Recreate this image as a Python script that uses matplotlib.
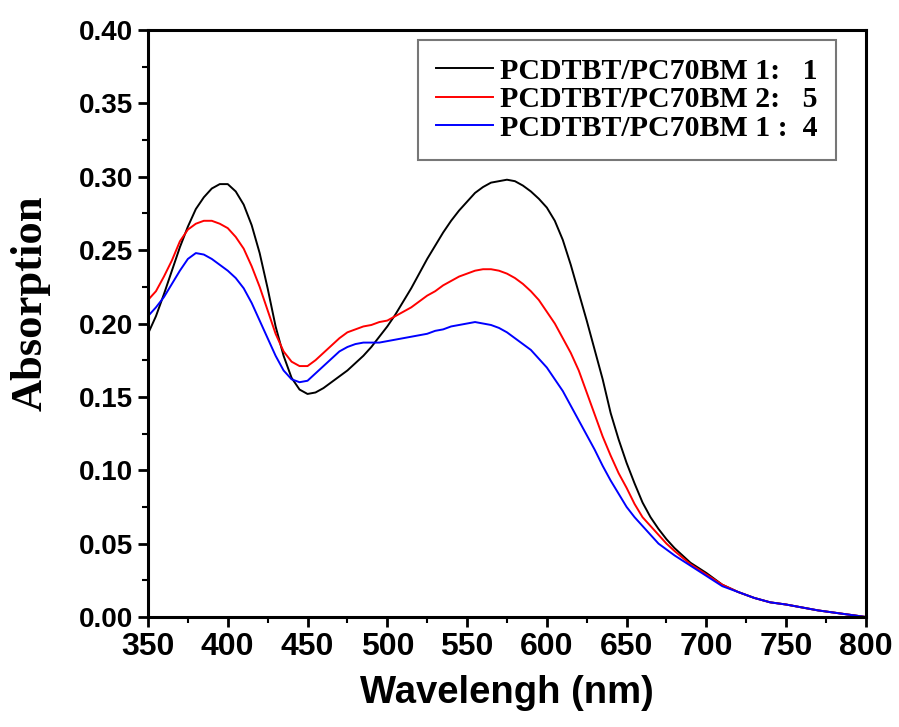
import matplotlib
matplotlib.use("Agg")
import matplotlib.pyplot as plt
from matplotlib.ticker import MultipleLocator, FormatStrFormatter

wavelength = [350, 355, 360, 365, 370, 375, 380, 385, 390, 395,
              400, 405, 410, 415, 420, 425, 430, 435, 440, 445,
              450, 455, 460, 465, 470, 475, 480, 485, 490, 495,
              500, 505, 510, 515, 520, 525, 530, 535, 540, 545,
              550, 555, 560, 565, 570, 575, 580, 585, 590, 595,
              600, 605, 610, 615, 620, 625, 630, 635, 640, 645,
              650, 655, 660, 665, 670, 675, 680, 690, 700, 710,
              720, 730, 740, 750, 760, 770, 780, 790, 800]

abs_1_1 = [0.193, 0.205, 0.220, 0.236, 0.252, 0.266, 0.278, 0.286, 0.292, 0.295,
           0.295, 0.290, 0.281, 0.267, 0.248, 0.224, 0.198, 0.178, 0.163, 0.155,
           0.152, 0.153, 0.156, 0.160, 0.164, 0.168, 0.173, 0.178, 0.184, 0.191,
           0.198, 0.206, 0.215, 0.224, 0.234, 0.244, 0.253, 0.262, 0.270, 0.277,
           0.283, 0.289, 0.293, 0.296, 0.297, 0.298, 0.297, 0.294, 0.290, 0.285,
           0.279, 0.270, 0.257, 0.240, 0.221, 0.202, 0.182, 0.162, 0.139, 0.121,
           0.105, 0.091, 0.078, 0.068, 0.060, 0.053, 0.047, 0.037, 0.030, 0.022,
           0.017, 0.013, 0.010, 0.0085, 0.0065, 0.0045, 0.003, 0.0015, 0.000]

abs_2_5 = [0.216, 0.222, 0.232, 0.243, 0.256, 0.264, 0.268, 0.270, 0.270, 0.268,
           0.265, 0.259, 0.251, 0.239, 0.225, 0.209, 0.193, 0.181, 0.174, 0.171,
           0.171, 0.175, 0.180, 0.185, 0.190, 0.194, 0.196, 0.198, 0.199, 0.201,
           0.202, 0.205, 0.208, 0.211, 0.215, 0.219, 0.222, 0.226, 0.229, 0.232,
           0.234, 0.236, 0.237, 0.237, 0.236, 0.234, 0.231, 0.227, 0.222, 0.216,
           0.208, 0.200, 0.190, 0.180, 0.168, 0.153, 0.138, 0.123, 0.110, 0.098,
           0.088, 0.077, 0.068, 0.062, 0.056, 0.050, 0.045, 0.036, 0.029, 0.022,
           0.017, 0.013, 0.010, 0.0085, 0.0065, 0.0045, 0.003, 0.0015, 0.000]

abs_1_4 = [0.205, 0.211, 0.218, 0.227, 0.236, 0.244, 0.248, 0.247, 0.244, 0.240,
           0.236, 0.231, 0.224, 0.214, 0.202, 0.190, 0.178, 0.168, 0.162, 0.160,
           0.161, 0.166, 0.171, 0.176, 0.181, 0.184, 0.186, 0.187, 0.187, 0.187,
           0.188, 0.189, 0.190, 0.191, 0.192, 0.193, 0.195, 0.196, 0.198, 0.199,
           0.200, 0.201, 0.200, 0.199, 0.197, 0.194, 0.190, 0.186, 0.182, 0.176,
           0.170, 0.162, 0.154, 0.144, 0.134, 0.124, 0.114, 0.103, 0.093, 0.084,
           0.075, 0.068, 0.062, 0.056, 0.050, 0.046, 0.042, 0.035, 0.028, 0.021,
           0.017, 0.013, 0.010, 0.0085, 0.0065, 0.0045, 0.003, 0.0015, 0.000]

labels = ["PCDTBT/PC70BM 1:   1", "PCDTBT/PC70BM 2:   5", "PCDTBT/PC70BM 1 :  4"]
colors = ["black", "#ff0000", "#0000ff"]

fig = plt.figure(figsize=(8.99, 7.27), dpi=100)
ax = fig.add_axes([0.1646, 0.1513, 0.7986, 0.8074])

for series, label, color in zip([abs_1_1, abs_2_5, abs_1_4], labels, colors):
    ax.plot(wavelength, series, color=color, linewidth=1.4, label=label)

ax.set_xlim(350, 800)
ax.set_ylim(0, 0.40)
ax.xaxis.set_major_locator(MultipleLocator(50))
ax.xaxis.set_minor_locator(MultipleLocator(25))
ax.yaxis.set_major_locator(MultipleLocator(0.05))
ax.yaxis.set_minor_locator(MultipleLocator(0.025))
ax.yaxis.set_major_formatter(FormatStrFormatter("%.2f"))

ax.tick_params(which="major", direction="out", length=7, width=2)
ax.tick_params(which="minor", direction="out", length=4, width=1.5)
ax.tick_params(top=False, right=False)
sans = ["Liberation Sans", "DejaVu Sans"]
for lab in ax.get_xticklabels():
    lab.set_family(sans)
    lab.set_weight("bold")
    lab.set_size(23)
for lab in ax.get_yticklabels():
    lab.set_family(sans)
    lab.set_weight("bold")
    lab.set_size(20)

for spine in ax.spines.values():
    spine.set_linewidth(2.2)

ax.set_xlabel("Wavelengh (nm)", family=sans, weight="bold", size=27.5, labelpad=10)
ax.set_ylabel("Absorption", family=["Liberation Serif", "DejaVu Serif"],
              weight="bold", size=32)
ax.yaxis.set_label_coords(-0.136, 0.535)

leg = ax.legend(loc="upper right", bbox_to_anchor=(0.958, 0.983), borderaxespad=0,
                frameon=True, fancybox=False, edgecolor="#555555",
                handlelength=1.9, handletextpad=0.25, borderpad=0.6,
                labelspacing=0.05,
                prop=dict(family=["Liberation Serif", "DejaVu Serif"],
                          weight="bold", size=21.5))
leg.get_frame().set_linewidth(1.5)

fig.savefig("out.png", dpi=100)
